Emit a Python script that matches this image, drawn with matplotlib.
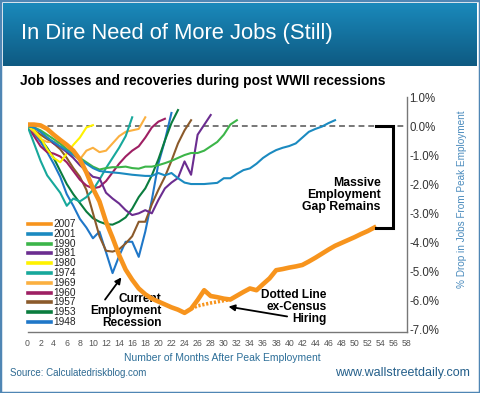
import numpy as np
import matplotlib
matplotlib.use("Agg")
import matplotlib.pyplot as plt
from matplotlib.lines import Line2D
from matplotlib.patches import Rectangle
from matplotlib.colors import LinearSegmentedColormap

plt.rcParams['font.family'] = ['Liberation Sans', 'DejaVu Sans']

# % change in jobs from peak, one value per month after the peak
years = ['2007', '2001', '1990', '1981', '1980', '1974', '1969', '1960', '1957', '1953', '1948']
colors = ['#f7941d', '#1b8ac0', '#3cb549', '#6b2d90', '#fff200', '#17a89b',
          '#fbb040', '#9e1f63', '#8b5a2b', '#0a7c3e', '#1f77c8']

y2007 = [0.05, 0.05, 0.02, -0.1, -0.3, -0.48, -0.65, -0.85, -1.15, -1.6, -2.15, -2.6,
         -3.3, -3.85, -4.45, -4.95, -5.3, -5.6, -5.8, -5.95, -6.05, -6.15, -6.25, -6.33,
         -6.44, -6.3, -6.0, -5.66, -5.86, -5.9, -5.95, -5.98, -5.85, -5.72, -5.6, -5.66,
         -5.45, -5.25, -4.97, -4.93, -4.88, -4.84, -4.79, -4.67, -4.54, -4.4, -4.26,
         -4.13, -4.03, -3.93, -3.83, -3.72, -3.62, -3.5]
census_months = [25, 26, 27, 28, 29, 30, 31]
census_vals = [-6.3, -6.2, -6.15, -6.1, -6.06, -6.02, -5.98]
y2001 = [0, -0.05, -0.2, -0.4, -0.55, -0.7, -0.85, -1.0, -1.15, -1.3, -1.45, -1.55,
         -1.58, -1.6, -1.62, -1.65, -1.68, -1.7, -1.72, -1.72, -1.62, -1.7, -1.62, -1.8,
         -1.95, -2.0, -2.0, -2.0, -1.98, -1.96, -1.8, -1.8, -1.65, -1.52, -1.46, -1.3,
         -1.1, -0.95, -0.83, -0.75, -0.69, -0.6, -0.4, -0.2, -0.1, -0.02, 0.1, 0.2]
y1990 = [0, -0.05, -0.15, -0.3, -0.45, -0.6, -0.8, -0.95, -1.1, -1.25, -1.4, -1.5,
         -1.45, -1.42, -1.42, -1.4, -1.45, -1.47, -1.4, -1.4, -1.35, -1.28, -1.2, -1.1,
         -1.0, -0.93, -0.93, -0.85, -0.7, -0.55, -0.3, 0.05, 0.2]
y1981 = [0, -0.05, -0.2, -0.4, -0.6, -0.72, -0.9, -1.1, -1.35, -1.55, -1.75, -1.8,
         -2.3, -2.5, -2.67, -2.9, -3.07, -3.01, -2.9, -3.01, -2.55, -2.15, -1.95, -1.79,
         -1.22, -1.68, -0.3, 0.04, 0.38]
y1980 = [0, -0.15, -0.4, -0.8, -1.1, -1.25, -0.95, -0.65, -0.4, -0.05, 0.03]
y1974 = [0, -0.6, -1.2, -1.7, -2.0, -2.3, -2.75, -2.5, -2.6, -2.45, -2.2, -1.85,
         -1.45, -1.1, -0.75, -0.35, 0.3]
y1969 = [0, -0.2, -0.45, -0.55, -0.55, -0.6, -0.8, -1.0, -1.15, -0.85, -0.75, -0.9,
         -0.85, -0.6, -0.35, -0.2, -0.15, -0.1, 0.3]
y1960 = [0, -0.35, -0.7, -0.9, -0.95, -1.05, -1.25, -1.55, -1.85, -2.05, -2.15, -2.1,
         -1.9, -1.6, -1.3, -1.05, -0.85, -0.7, -0.4, -0.05, 0.15, 0.25]
y1957 = [0, -0.15, -0.3, -0.45, -0.6, -0.8, -1.1, -1.45, -1.75, -2.2, -3.0, -3.8,
         -4.3, -4.33, -4.25, -4.05, -3.8, -3.3, -3.3, -2.7, -2.2, -1.75, -1.2, -0.6,
         -0.15, 0.2]
y1953 = [0, -0.2, -0.45, -0.75, -1.1, -1.55, -2.0, -2.35, -2.65, -2.95, -3.18, -3.3,
         -3.38, -3.4, -3.3, -3.15, -2.85, -2.45, -2.15, -1.7, -1.15, -0.5, 0.1, 0.55]
y1948 = [0, -0.25, -0.55, -0.9, -1.3, -1.75, -2.35, -2.75, -3.2, -3.5, -3.87, -3.64,
         -4.35, -5.07, -4.48, -3.99, -3.99, -4.51, -3.64, -2.55, -1.3, -0.5, 0.45]
series = [y2007, y2001, y1990, y1981, y1980, y1974, y1969, y1960, y1957, y1953, y1948]

yticks = [1, 0, -1, -2, -3, -4, -5, -6, -7]
xticks = list(range(0, 59, 2))

W, H = 480, 393
fig = plt.figure(figsize=(W / 100, H / 100), dpi=100)


def fx(px):
    return px / W


def fy(py):
    return 1 - py / H


# header banner
hax = fig.add_axes([fx(3), fy(66), fx(474), fy(3) - fy(66)])
cmap = LinearSegmentedColormap.from_list('hdr', ['#1a89bb', '#0e5a82'])
hax.imshow(np.linspace(0, 1, 64).reshape(-1, 1), aspect='auto', cmap=cmap)
hax.axis('off')
fig.text(fx(21), fy(33), 'In Dire Need of More Jobs (Still)', color='white',
         fontsize=15.8, va='center')
fig.text(fx(20), fy(81), 'Job losses and recoveries during post WWII recessions',
         fontsize=9.9, weight='bold', va='center')

ax = fig.add_axes([fx(27.5), fy(332), fx(407) - fx(27.5), fy(97) - fy(332)])
ax.set_xlim(0, 58)
ax.set_ylim(-7.1, 1.0)
for s in ['left', 'top']:
    ax.spines[s].set_visible(False)
for s in ['right', 'bottom']:
    ax.spines[s].set_color('#777777')
    ax.spines[s].set_linewidth(1)
ax.yaxis.tick_right()
ax.set_yticks(yticks)
ax.set_yticklabels([f'{v:.1f}%' for v in yticks], fontsize=8.3, color='#333333')
ax.set_xticks(xticks)
ax.set_xticklabels([str(v) for v in xticks], fontsize=6.3, color='#555555')
ax.tick_params(axis='y', length=0, pad=1.5)
ax.tick_params(axis='x', length=0, pad=5)

ax.axhline(0, color='#777777', lw=1.4, ls=(0, (3, 2)), zorder=1)

for yr, c, v in zip(years[::-1], colors[::-1], series[::-1]):
    lw = 3.3 if yr == '2007' else 1.5
    z = 5 if yr == '2007' else 2
    ax.plot(range(len(v)), v, color=c, lw=lw, zorder=z)
ax.plot(census_months, census_vals, color=colors[0], lw=2.6, ls=(0, (0.6, 0.5)), zorder=5)

# bracket showing the remaining gap
gap = y2007[-1]
xl = len(y2007) - 1
ax.plot([xl + 0.3, xl + 2.8, xl + 2.8, xl + 0.3], [0, 0, gap, gap], color='black',
        lw=2.2, clip_on=False, zorder=6, solid_joinstyle='miter')
ax.text(xl + 1.0, -2.38, 'Massive\nEmployment\nGap Remains', ha='right', va='center',
        fontsize=8.8, weight='bold', linespacing=1.0)

ax.text(20.5, -6.38, 'Current\nEmployment\nRecession', ha='right', va='center',
        fontsize=8.6, weight='bold', linespacing=1.0)
ax.annotate('', xy=(14.6, -5.14), xytext=(11.6, -6.06),
            arrowprops=dict(arrowstyle='-|>', color='black', lw=1.3, mutation_scale=9))
ax.text(45.7, -6.23, 'Dotted Line\nex-Census\nHiring', ha='right', va='center',
        fontsize=8.6, weight='bold', linespacing=1.0)
ax.annotate('', xy=(30.3, -6.21), xytext=(40.1, -6.58),
            arrowprops=dict(arrowstyle='-|>', color='black', lw=1.3, mutation_scale=9))

# legend
for i, (yr, c) in enumerate(zip(years, colors)):
    yy = fy(224 + 9.8 * i)
    fig.add_artist(Line2D([fx(28), fx(51)], [yy, yy], transform=fig.transFigure,
                          color=c, lw=2.6))
    fig.text(fx(53), yy, yr, fontsize=7.3, va='center', color='#222222')

fig.text(fx(222), fy(358), 'Number of Months After Peak Employment', color='#2c6e98',
         fontsize=7.5, ha='center', va='center')
fig.text(fx(462), fy(199), '% Drop in Jobs From Peak Employment', color='#4a8bbd',
         fontsize=7.2, ha='center', va='center', rotation=90)
fig.text(fx(10), fy(373), 'Source: Calculatedriskblog.com', color='#2e6a92',
         fontsize=7, va='center')
fig.text(fx(470), fy(373), 'www.wallstreetdaily.com', color='#245f8a',
         fontsize=9, ha='right', va='center')

fig.add_artist(Rectangle((0, 0), 1, 1, transform=fig.transFigure, fill=False,
                         ec='#4f86b4', lw=2.5))

fig.savefig('out.png', dpi=100)
